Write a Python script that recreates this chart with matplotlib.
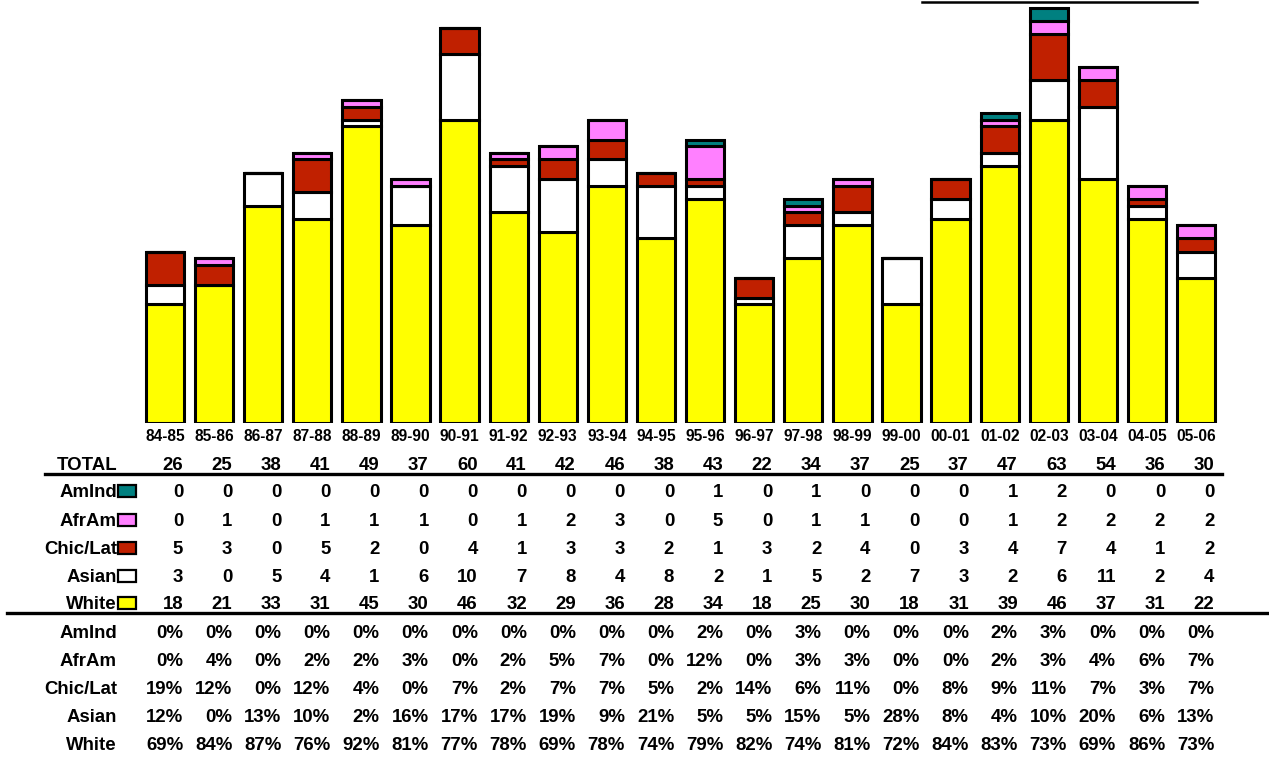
import numpy as np
import matplotlib.pyplot as plt
import matplotlib.transforms as mtransforms
from matplotlib.patches import Rectangle

plt.rcParams['font.family'] = ['Liberation Sans', 'DejaVu Sans']

years = ["84-85", "85-86", "86-87", "87-88", "88-89", "89-90", "90-91", "91-92",
         "92-93", "93-94", "94-95", "95-96", "96-97", "97-98", "98-99", "99-00",
         "00-01", "01-02", "02-03", "03-04", "04-05", "05-06"]

amind = [0, 0, 0, 0, 0, 0, 0, 0, 0, 0, 0, 1, 0, 1, 0, 0, 0, 1, 2, 0, 0, 0]
afram = [0, 1, 0, 1, 1, 1, 0, 1, 2, 3, 0, 5, 0, 1, 1, 0, 0, 1, 2, 2, 2, 2]
chiclat = [5, 3, 0, 5, 2, 0, 4, 1, 3, 3, 2, 1, 3, 2, 4, 0, 3, 4, 7, 4, 1, 2]
asian = [3, 0, 5, 4, 1, 6, 10, 7, 8, 4, 8, 2, 1, 5, 2, 7, 3, 2, 6, 11, 2, 4]
white = [18, 21, 33, 31, 45, 30, 46, 32, 29, 36, 28, 34, 18, 25, 30, 18, 31, 39, 46, 37, 31, 22]

# stacking order bottom -> top
groups = ["White", "Asian", "Chic/Lat", "AfrAm", "AmInd"]
values = [white, asian, chiclat, afram, amind]
colors = ["#FFFF00", "#FFFFFF", "#C02000", "#FF80FF", "#008080"]

W, H = 1269, 757
fig = plt.figure(figsize=(W / 100, H / 100), dpi=100)

# axes spans full width, bottom of bars at pixel row 423
x0_px, step_px = 165.0, 49.1
ax = fig.add_axes([0, 1 - 423 / H, 1, 423 / H])
ax.set_xlim(-x0_px / step_px, (W - x0_px) / step_px)
ax.set_ylim(0, 423 / 6.59)
ax.axis('off')

x = np.arange(len(years))
bottom = np.zeros(len(years))
for vals, col in zip(values, colors):
    ax.bar(x, vals, bottom=bottom, width=0.78, color=col, edgecolor='black',
           linewidth=2.2, zorder=2)
    bottom += np.array(vals)

total = bottom.astype(int)

trans = mtransforms.blended_transform_factory(ax.transData, fig.transFigure)

def fy(px):
    return 1 - px / H

def fx(px):
    return px / W

tfont = dict(fontweight='bold', fontsize=13.4, va='baseline')
right_off = 0.37

# year labels
for i, yr in enumerate(years):
    fig.text(i, fy(441), yr, transform=trans, ha='center', va='baseline',
             fontweight='bold', fontsize=11.2)

# total row
fig.text(fx(117), fy(469.5), "TOTAL", ha='right', **tfont)
for i, t in enumerate(total):
    fig.text(i + right_off, fy(469.5), str(t), transform=trans, ha='right', **tfont)

fig.add_artist(plt.Line2D([fx(45), fx(1222)], [fy(474), fy(474)], color='black', lw=2.4))
fig.add_artist(plt.Line2D([fx(7), fx(1269)], [fy(613), fy(613)], color='black', lw=2.4))
fig.add_artist(plt.Line2D([fx(922), fx(1197)], [fy(2), fy(2)], color='black', lw=1.8))

# counts rows (top -> bottom: AmInd ... White)
rows_y = [497.5, 526, 553.5, 581.5, 609]
for k, ry in enumerate(rows_y):
    gi = len(groups) - 1 - k
    fig.text(fx(117), fy(ry), groups[gi], ha='right', **tfont)
    fig.add_artist(Rectangle((fx(118), fy(ry)), 18 / W, 12 / H, transform=fig.transFigure,
                             facecolor=colors[gi], edgecolor='black', lw=1.6))
    for i, v in enumerate(values[gi]):
        fig.text(i + right_off, fy(ry), str(v), transform=trans, ha='right', **tfont)

# percentage rows
pct_y = [637.5, 665.5, 694, 722, 750]
for k, ry in enumerate(pct_y):
    gi = len(groups) - 1 - k
    fig.text(fx(117), fy(ry), groups[gi], ha='right', **tfont)
    for i, v in enumerate(values[gi]):
        p = int(round(100 * v / total[i]))
        fig.text(i + right_off, fy(ry), f"{p}%", transform=trans, ha='right', **tfont)

fig.savefig("out.png", dpi=100)
